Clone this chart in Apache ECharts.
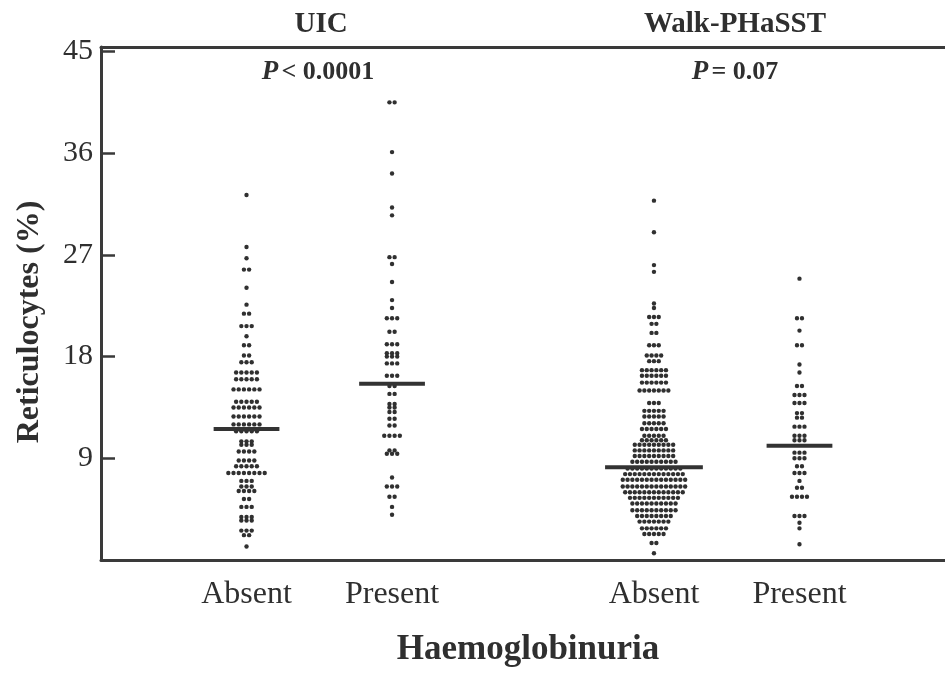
<!DOCTYPE html>
<html>
<head>
<meta charset="utf-8">
<script src="https://cdn.jsdelivr.net/npm/echarts@6/dist/echarts.min.js"></script>
<style>
  html, body { margin: 0; padding: 0; background: #ffffff; }
  #chart { width: 945px; height: 673px; }
</style>
</head>
<body>
<div id="chart"></div>
<script>
// Reticulocyte percentages by haemoglobinuria status, two cohorts (UIC, Walk-PHaSST)
const categoryLabels = ['Absent', 'Present', 'Absent', 'Present'];
const categoryPositions = [1, 2, 3.8, 4.8];
const panelTitles = ['UIC', 'Walk-PHaSST'];
const pValueTexts = ['< 0.0001', '= 0.07'];
const yTicks = [9, 18, 27, 36, 45];

// Dot plot rows: level (%) and number of patients in that row
const uicAbsentLevels = [32.3, 27.7, 26.7, 25.7, 24.1, 22.6, 21.8, 20.7, 19.8, 19.0, 18.1, 17.5, 16.6, 16.0, 15.1, 14.0, 13.5, 12.7, 12.0, 11.4, 10.5, 10.2, 9.6, 8.8, 8.3, 7.7, 7.0, 6.5, 6.1, 5.4, 4.7, 3.8, 3.5, 2.6, 2.2, 1.2];
const uicAbsentCounts = [1, 1, 1, 2, 1, 1, 2, 3, 1, 2, 2, 3, 5, 5, 6, 5, 6, 6, 6, 5, 3, 3, 4, 4, 5, 8, 3, 3, 4, 2, 3, 3, 3, 3, 2, 1];

const uicPresentLevels = [40.5, 36.1, 34.2, 31.2, 30.5, 26.8, 26.2, 24.6, 23.0, 22.3, 21.4, 20.2, 19.1, 18.3, 18.0, 17.4, 16.3, 15.4, 14.7, 13.8, 13.5, 13.1, 12.5, 11.9, 11.0, 9.7, 9.4, 7.3, 6.5, 5.6, 4.7, 4.0];
const uicPresentCounts = [2, 1, 1, 1, 1, 2, 1, 1, 1, 1, 3, 2, 3, 3, 3, 3, 3, 2, 2, 2, 2, 2, 2, 2, 4, 2, 3, 1, 3, 2, 1, 1];

const walkAbsentLevels = [31.8, 29.0, 26.1, 25.5, 22.7, 22.3, 21.5, 20.9, 20.1, 19.0, 18.1, 17.6, 16.8, 16.3, 15.7, 15.0, 13.9, 13.2, 12.7, 12.1, 11.6, 11.0, 10.6, 10.2, 9.7, 9.2, 8.7, 8.1, 7.6, 7.1, 6.5, 6.0, 5.5, 5.0, 4.4, 3.9, 3.4, 2.8, 2.3, 1.5, 0.6];
const walkAbsentCounts = [1, 1, 1, 1, 1, 1, 3, 2, 2, 3, 4, 3, 6, 6, 6, 7, 3, 5, 5, 5, 6, 5, 6, 9, 9, 9, 10, 12, 13, 14, 14, 13, 11, 10, 10, 8, 7, 6, 5, 2, 1];

const walkPresentLevels = [24.9, 21.4, 20.3, 19.0, 17.3, 16.6, 15.4, 14.6, 13.9, 13.0, 12.6, 11.8, 11.0, 10.6, 9.5, 9.0, 8.3, 7.7, 7.0, 6.4, 5.6, 3.9, 3.3, 2.8, 1.4];
const walkPresentCounts = [1, 2, 1, 2, 1, 1, 2, 3, 3, 2, 2, 3, 3, 3, 3, 3, 2, 3, 1, 2, 4, 3, 1, 1, 1];

// Group medians (%)
const medians = [11.6, 15.6, 8.2, 10.1];

// ---- layout & style ----
const FONT = 'Liberation Serif';
const INK = '#2f2f2f';
const GRID_LEFT = 101, GRID_TOP = 47, GRID_BOTTOM = 113, GRID_WIDTH = 847;
const X_MAX = 5.8;
const PX_PER_X = GRID_WIDTH / X_MAX;

const groups = [
  { levels: uicAbsentLevels, counts: uicAbsentCounts, step: 5.2, half: 0.226 },
  { levels: uicPresentLevels, counts: uicPresentCounts, step: 5.2, half: 0.226 },
  { levels: walkAbsentLevels, counts: walkAbsentCounts, step: 4.8, half: 0.336 },
  { levels: walkPresentLevels, counts: walkPresentCounts, step: 5.0, half: 0.226 }
];

// One data item per dot: [x position, level, horizontal slot offset (px)]
const dotData = [];
groups.forEach((g, gi) => {
  g.levels.forEach((lv, i) => {
    const n = g.counts[i];
    for (let k = 0; k < n; k++) {
      dotData.push([categoryPositions[gi], lv, (k - (n - 1) / 2) * g.step]);
    }
  });
});

const medianData = medians.map((m, gi) => [categoryPositions[gi], m, groups[gi].half]);

const chart = echarts.init(document.getElementById('chart'), null, { renderer: 'canvas' });

const titleX = [
  GRID_LEFT + PX_PER_X * (categoryPositions[0] + categoryPositions[1]) / 2,
  GRID_LEFT + PX_PER_X * (categoryPositions[2] + categoryPositions[3]) / 2
];

const graphics = [];
panelTitles.forEach((t, i) => {
  graphics.push({
    type: 'text', x: titleX[i] + (i === 1 ? 6 : 1), y: 25,
    style: { text: t, font: `bold 29px "${FONT}"`, fill: INK, align: 'center', verticalAlign: 'middle' }
  });
  graphics.push({
    type: 'text', x: titleX[i] + (i === 1 ? 6 : -2), y: 72,
    style: {
      text: `{i|P} {b|${pValueTexts[i]}}`,
      align: 'center', verticalAlign: 'middle',
      rich: {
        i: { font: `italic bold 27px "${FONT}"`, fill: INK },
        b: { font: `bold 26px "${FONT}"`, fill: INK }
      }
    }
  });
});
graphics.push({
  type: 'text', x: 30, y: 322, rotation: Math.PI / 2,
  style: { text: 'Reticulocytes (%)', font: `bold 32px "${FONT}"`, fill: INK, align: 'center', verticalAlign: 'middle' }
});
graphics.push({
  type: 'text', x: 528, y: 650,
  style: { text: 'Haemoglobinuria', font: `bold 35px "${FONT}"`, fill: INK, align: 'center', verticalAlign: 'middle' }
});

const axisLineStyle = { color: '#3a3a3a', width: 3 };

chart.setOption({
  animation: false,
  backgroundColor: '#ffffff',
  grid: { left: GRID_LEFT, top: GRID_TOP, bottom: GRID_BOTTOM, width: GRID_WIDTH, containLabel: false },
  xAxis: [
    {
      type: 'value', min: 0, max: X_MAX, position: 'bottom',
      axisLine: { show: true, lineStyle: axisLineStyle },
      axisTick: { show: false },
      splitLine: { show: false },
      axisLabel: {
        customValues: categoryPositions,
        formatter: v => categoryLabels[categoryPositions.indexOf(v)] || '',
        fontFamily: FONT, fontSize: 32, color: INK, margin: 19
      }
    },
    {
      type: 'value', min: 0, max: X_MAX, position: 'top',
      axisLine: { show: true, lineStyle: axisLineStyle },
      axisTick: { show: false }, axisLabel: { show: false }, splitLine: { show: false }
    }
  ],
  yAxis: {
    type: 'value', min: 0, max: 45.4,
    axisLine: { show: true, lineStyle: axisLineStyle },
    axisTick: { show: true, inside: true, length: 14, customValues: yTicks, lineStyle: { color: '#3a3a3a', width: 2.5 } },
    axisLabel: { customValues: yTicks, fontFamily: FONT, fontSize: 30, color: INK, margin: 8 },
    splitLine: { show: false }
  },
  graphic: graphics,
  series: [
    {
      type: 'custom',
      xAxisIndex: 0,
      data: dotData,
      encode: { x: 0, y: 1 },
      renderItem: (params, api) => {
        const c = api.coord([api.value(0), api.value(1)]);
        return {
          type: 'circle',
          shape: { cx: c[0] + api.value(2), cy: c[1], r: 2.2 },
          style: { fill: '#303030' }
        };
      }
    },
    {
      type: 'custom',
      xAxisIndex: 0,
      data: medianData,
      encode: { x: 0, y: 1 },
      z: 5,
      renderItem: (params, api) => {
        const x = api.value(0), m = api.value(1), h = api.value(2);
        const a = api.coord([x - h, m]);
        const b = api.coord([x + h, m]);
        return {
          type: 'line',
          shape: { x1: a[0], y1: a[1], x2: b[0], y2: b[1] },
          style: { stroke: '#333333', lineWidth: 4 }
        };
      }
    }
  ]
});
</script>
</body>
</html>
